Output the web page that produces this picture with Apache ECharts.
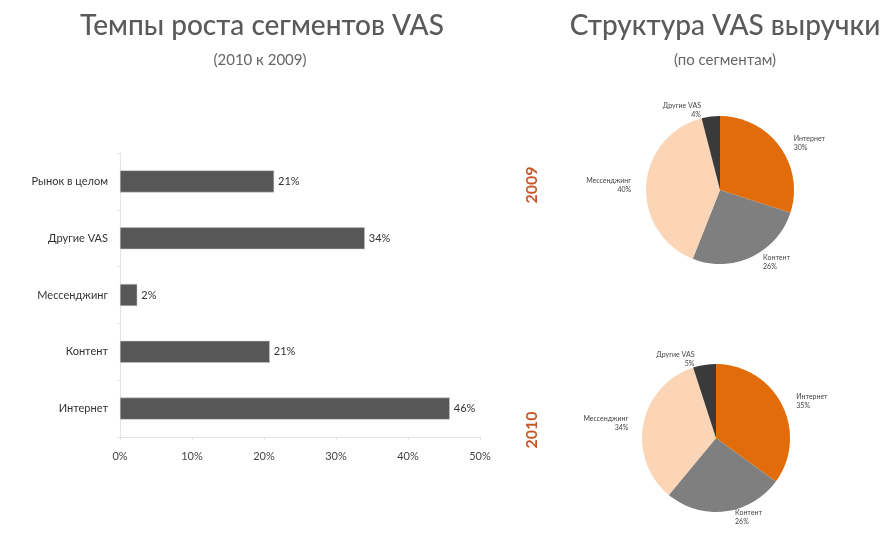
<!DOCTYPE html>
<html><head><meta charset="utf-8">
<script src="https://cdn.jsdelivr.net/npm/echarts@6/dist/echarts.min.js"></script>
<style>html,body{margin:0;padding:0;background:#fff}#c{width:882px;height:538px}</style>
</head><body><div id="c"></div>
<script>
var barCategories = ['Рынок в целом', 'Другие VAS', 'Мессенджинг', 'Контент', 'Интернет'];
var barValues = [21.4, 34, 2.4, 20.8, 45.8];
var barLabels = ['21%', '34%', '2%', '21%', '46%'];
var xTicks = ['0%', '10%', '20%', '30%', '40%', '50%'];
var pieNames = ['Интернет', 'Контент', 'Мессенджинг', 'Другие VAS'];
var pie2009 = [30, 26, 40, 4];
var pie2010 = [35, 26, 34, 5];
var years = ['2009', '2010'];
var pieColors = ['#e36c0a', '#7f7f7f', '#fbd5b5', '#3a3a3a'];

var chart = echarts.init(document.getElementById('c'));
function pieData(vals){ return pieNames.map(function(n,i){return {name:n, value:vals[i], itemStyle:{color:pieColors[i]}};}); }
function pieSeries(vals, cx, cy){
  return {
    type:'pie', center:[cx, cy], radius:74, startAngle:90, clockwise:true,
    data: pieData(vals), silent:true,
    label:{show:true, position:'outside', formatter:'{b}\n{c}%', fontSize:7, lineHeight:9, color:'#444', fontFamily:'Lato', align:'center'},
    labelLine:{show:false, length:6, length2:4},
    itemStyle:{borderWidth:0}
  };
}
chart.setOption({
  animation:false,
  title:[
    {text:'Темпы роста сегментов VAS', left:257, top:7, textAlign:'center', textStyle:{fontFamily:'Lato', fontSize:28, fontWeight:500, color:'#5a5a5a'}},
    {text:'(2010 к 2009)', left:255, top:48, textAlign:'center', textStyle:{fontFamily:'Lato', fontSize:15, fontWeight:'normal', color:'#666'}},
    {text:'Структура VAS выручки', left:720, top:7, textAlign:'center', textStyle:{fontFamily:'Lato', fontSize:28, fontWeight:500, color:'#5a5a5a'}},
    {text:'(по сегментам)', left:720, top:48, textAlign:'center', textStyle:{fontFamily:'Lato', fontSize:15, fontWeight:'normal', color:'#666'}}
  ],
  graphic:[
    {type:'text', x:532, y:185, rotation:Math.PI/2, style:{text:years[0], fill:'#c8582a', font:'bold 16px Lato', textAlign:'center', textVerticalAlign:'middle'}},
    {type:'text', x:532, y:430, rotation:Math.PI/2, style:{text:years[1], fill:'#c8582a', font:'bold 16px Lato', textAlign:'center', textVerticalAlign:'middle'}}
  ],
  grid:{left:120, right:402, top:153, bottom:101, containLabel:false},
  xAxis:{type:'value', min:0, max:50, interval:10,
    axisLine:{show:true, lineStyle:{color:'#e4e4e4'}},
    axisTick:{show:true, length:3, lineStyle:{color:'#e4e4e4'}},
    splitLine:{show:false},
    axisLabel:{margin:14, fontSize:11, color:'#444', fontFamily:'Lato', formatter:function(v){return xTicks[Math.round(v/10)];}}
  },
  yAxis:{type:'category', data:barCategories, inverse:true,
    axisLine:{show:true, lineStyle:{color:'#e4e4e4'}},
    axisTick:{show:true, length:3, lineStyle:{color:'#e4e4e4'}},
    axisLabel:{margin:12, fontSize:11, color:'#333', fontFamily:'Lato'}
  },
  series:[
    {type:'bar', data:barValues, barWidth:22, silent:true,
      itemStyle:{color:'#575757', borderColor:'#c8c8c8', borderWidth:0.5},
      label:{show:true, position:'right', distance:4, fontSize:11, color:'#333', fontFamily:'Lato', formatter:function(p){return barLabels[p.dataIndex];}}
    },
    pieSeries(pie2009, 720, 190),
    pieSeries(pie2010, 716, 438)
  ]
});
</script></body></html>
